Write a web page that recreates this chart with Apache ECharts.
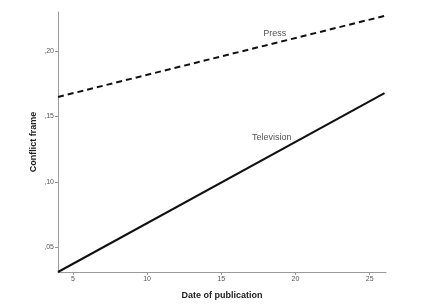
<!DOCTYPE html>
<html><head><meta charset="utf-8">
<script src="https://cdn.jsdelivr.net/npm/echarts@6/dist/echarts.min.js"></script>
<style>html,body{margin:0;padding:0;background:#fff}#c{width:435px;height:307px}</style>
</head><body><div id="c"></div>
<script>
const xTicks = [5, 10, 15, 20, 25];
const yTicks = [0.05, 0.10, 0.15, 0.20];
const pressX = [4, 26];
const pressY = [0.165, 0.227];
const tvX = [4, 26];
const tvY = [0.031, 0.168];
const labelPress = {name: 'Press', x: 18.6, y: 0.2138};
const labelTv = {name: 'Television', x: 18.4, y: 0.134};

const fmt = v => ',' + Math.round(v * 100).toString().padStart(2, '0');
const chart = echarts.init(document.getElementById('c'));
const axisCol = '#9a9a9a';
const mp = l => ({
  symbol: 'circle', symbolSize: 1, itemStyle: {color: 'rgba(0,0,0,0)'},
  data: [{coord: [l.x, l.y], label: {show: true, position: 'inside', formatter: l.name, color: '#555', fontSize: 9, fontFamily: 'Liberation Sans'}}]
});
chart.setOption({
  animation: false,
  grid: {left: 58, top: 12, right: 49, bottom: 35},
  xAxis: {
    type: 'value', min: 4, max: 26.1,
    name: 'Date of publication', nameLocation: 'middle', nameGap: 19, nameMoveOverlap: false,
    nameTextStyle: {fontFamily: 'Liberation Sans', fontWeight: 'bold', fontSize: 9, color: '#222'},
    axisLine: {lineStyle: {color: axisCol, width: 1}},
    axisTick: {show: true, customValues: xTicks, length: 3, lineStyle: {color: axisCol}},
    axisLabel: {customValues: xTicks, fontSize: 7, color: '#555', margin: 4, fontFamily: 'Liberation Sans'},
    splitLine: {show: false}
  },
  yAxis: {
    type: 'value', min: 0.031, max: 0.23,
    name: 'Conflict frame', nameLocation: 'middle', nameGap: 20, nameRotate: 90, nameMoveOverlap: false,
    nameTextStyle: {fontFamily: 'Liberation Sans', fontWeight: 'bold', fontSize: 9, color: '#222'},
    axisLine: {show: true, lineStyle: {color: axisCol, width: 1}},
    axisTick: {show: true, customValues: yTicks, length: 3, lineStyle: {color: axisCol}},
    axisLabel: {customValues: yTicks, formatter: fmt, fontSize: 7, color: '#555', margin: 4, fontFamily: 'Liberation Sans'},
    splitLine: {show: false}
  },
  series: [
    {
      type: 'line', name: 'Press', data: pressX.map((x, i) => [x, pressY[i]]),
      symbol: 'none', lineStyle: {color: '#111', width: 2, type: [6, 4]},
      markPoint: mp(labelPress)
    },
    {
      type: 'line', name: 'Television', data: tvX.map((x, i) => [x, tvY[i]]),
      symbol: 'none', lineStyle: {color: '#111', width: 2},
      markPoint: mp(labelTv)
    }
  ]
});
</script></body></html>
